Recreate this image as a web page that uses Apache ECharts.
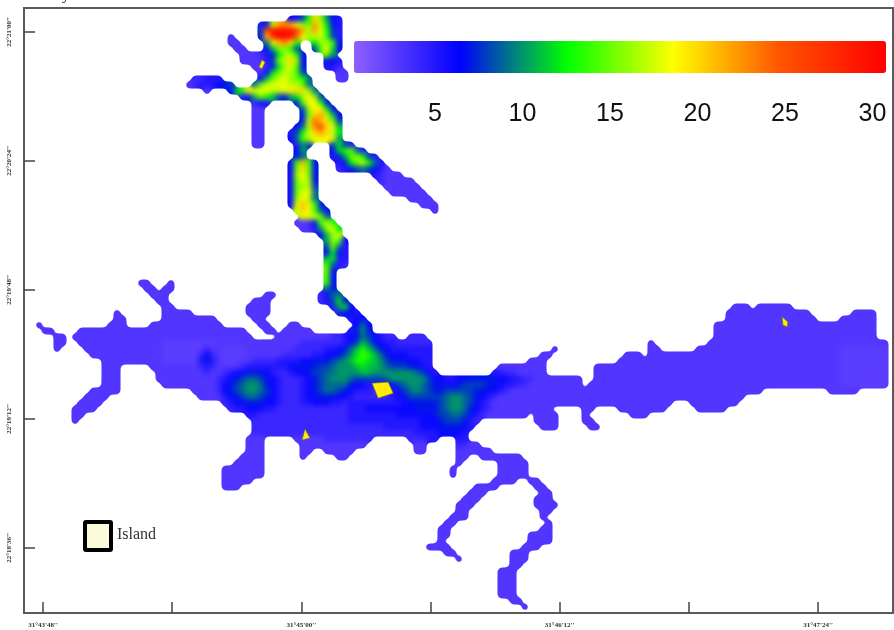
<!DOCTYPE html>
<html><head><meta charset="utf-8">
<style>html,body{margin:0;padding:0;background:#fff}
#heat,#chart{position:absolute;left:0;top:0;width:894px;height:630px}
#heat{filter:url(#soft)}
#chart{filter:blur(0.5px)}</style>
<script src="https://cdn.jsdelivr.net/npm/echarts@6/dist/echarts.min.js"></script>
</head><body>
<svg width="0" height="0" style="position:absolute"><filter id="soft" x="0" y="0" width="100%" height="100%" color-interpolation-filters="sRGB">
<feGaussianBlur stdDeviation="2.4"/><feComponentTransfer><feFuncA type="linear" slope="7" intercept="-2.7"/></feComponentTransfer></filter></svg>
<div id="heat"></div><div id="chart"></div>
<script>
// Sampled map: one string per row, "firstColumn:levels"; a level is one base-36 digit of the measured value, "a*n" repeats it.
const waterRows = [
"44:668dkga65","39:57hmnmigfmhc75","39:8puuuurmhmid85","34:3 39:7lruutoighhe85","34:33 40:9ilnkd 48:cgge7",
"35:33 40:7bfgd8 48:8ejc6","36:333457cghd6 50:fa","36:333358fhkg7 50:765","38:3346cgie7 50:554","39:36cfhhe8 52:33",
"28:44555 39:6bfhigfd9 52:33","27:34555678 38:9fhiiihhf9","30:3 34:6bejiiihhijkkg9","36:57bfdb87acgjg8","38:465 45:7ejjd7",
"38:33 46:8gjjc6","38:33 46:7fkmhb6","38:33 46:7holkf8","38:33 45:69hnqkib","38:33 44:58dhkmkhc",
"38:33 44:69ehiijia","38:33 45:5a8 51:8c85","45:6a 51:6bdf95","45:79 51:57aegd85","44:6ele7 52:57cfhd95",
"44:6fkf7 52:456898753","44:6gjf7 58:54333","44:6fig7 59:433333","44:6fgh8 60:333333","44:6fii9 61:333333",
"44:6gjh9 64:3333","44:6ilie7 66:333","45:hkje96 68:3","46:iihf9","45:3347ehd",
"46:335agic","49:6bgh","50:agf6","50:8f95","50:6c75",
"50:bc55","50:e954","50:f7","50:e6","19:33 24:3 50:e7",
"20:33 23:33 50:97","21:333 40:33 49:4699","22:33 38:333 49:458c7","23:33 37:3333 51:5ac6 118:333 122:3*6","15:3 23:3*5 37:3333 52:5765 117:3*14 138:3*4",
"15:33 23:3*9 38:33 54:566 117:3*15 136:3*6","2:3 14:333 21:3*12 39:33 44:33 55:696 115:3*27","3:33 9:3*28 40:33 43:3*5 54:57a7 115:3*27",
"5:33 8:3*30 42:3*9,44567986544 64:444 115:3*27",
"5:33 9:3*14,2*9,3*14,4*7,568b976554*6 104:3 114:3*30",
"5:3 10:3*13,2*7,433,2*4,3*8,4*5,55679bdb976555*5 88:3 104:33 112:3*24,2*8",
"11:3*12,2*6,4643,2*4,3*6,4*5,556678acedb976665*4 86:33 100:333 104:3*32,2*8",
"13:3*10,2*6,5753,2*3,3*2,4*4,5*4,6*2,77789abddcba87776655 84:333 99:3*37,2*8",
"13:333 21:3*8,454,3*4,45*7,6,7*4,889aaabcbba98887765 79:3*8 95:3*41,2*8",
"13:333 22:3*8,43*2,4566777654456678899a*4,bba*7,9865 78:55443*5 95:3*41,2*8",
"13:333 22:3*10,4567899876544456789aaa9888889a*6,8665566777776655443*8 95:3*41,2*8",
"13:333 23:3*9,46789aa9765444567899997665556789aa987766788887765544"+"3*9 94:3*42,2*8",
"11:3*5 28:3*4,46789aa98654445"+"678998765554445689a9877888887766543*42 134:3*5",
"10:3333 29:3*4,5678998765444566777665"+"4*6,5678*6,9aa9876543*41",
"9:3333 33:456677766544455666554"+"5*9,66777789aa986543*30 111:3*8",
"8:3333 34:45566655444*10,5*3,6*8,777789aa976543*10 93:33 99:3*8 112:3*5",
"8:33 37:554444*12,5*8,6*6,7889987543*7 85:3333 93:3 101:333",
"8:3 38:4*16,5*12,6667888754 85:3333 93:33",
"38:4*22,5*6,666777765 86:333 94:33",
"38:4*27,5*4,6*4,5",
"37:333 45:3*5,4*8 64:44455 72:55","37:333 46:3*11 65:33 72:4433","37:333 46:33 50:3*5 65:33 72:3*6","36:3*4 46:3 52:33 72:33 76:3*7","35:3*5 72:3 79:3*5",
"33:3*7 71:3 79:3*5","33:3*7 71:3 79:3*5","33:3*5 78:3*4 84:33","33:333 75:3*4 85:33","74:333 86:33",
"73:333 85:333","72:333 85:3*4","72:33 86:33","71:333 86:3","70:33 87:3",
"69:33 86:33","69:33 84:3*4","69:3 84:3*4","67:3*4 83:333","70:33 81:333",
"72:3 81:333","81:33","79:3*3","79:3*3","79:3*3","79:3*3","79:3*3","81:33","83:3"
];
const columnCount = 145;
const lightWater = 2.6; // level "2" in the rows: the palest water
// Islands, as [longitude, latitude] in arc-seconds.
const islandA = [[114319.7,80362.0],[114324.2,80362.3],[114325.6,80359.2],[114321.4,80357.8]];
const islandB = [[114300.2,80346.1],[114301.0,80349.2],[114302.4,80346.7]];
const islandC = [[114434.0,80380.5],[114435.6,80379.1],[114435.4,80377.7],[114434.2,80378.2]];
const islandD = [[114288.2,80450.2],[114289.0,80452.2],[114289.9,80451.6],[114289.0,80449.7]];
const islands = [islandA, islandB, islandC, islandD];
const lonTicks = [114228,114264,114300,114336,114372,114408,114444];
const lonLabels = [114228,114300,114372,114444];
const latTicks = [80460,80424,80388,80352,80316];
const colorTicks = [5,10,15,20,25,30];
const colorStops = ['#8f5fff','#0000ff','#00ff00','#ffff00','#ff5500','#ff0000'];

function dms(v){
  const d=Math.floor(v/3600), m=Math.floor((v-d*3600)/60), s=Math.round(v-d*3600-m*60);
  return d+'°'+String(m).padStart(2,'0')+"'"+String(s).padStart(2,'0')+"''";
}
const cells=[];
waterRows.forEach((row,r)=>{
  row.split(' ').forEach(seg=>{
    const i=seg.indexOf(':'), start=+seg.slice(0,i);
    const levels=seg.slice(i+1).replace(/(\w)\*(\d+)/g,(m,c,n)=>c.repeat(+n)).replace(/,/g,'');
    [...levels].forEach((ch,k)=>cells.push([start+k,r,ch==='2'?lightWater:parseInt(ch,36)]));
  });
});
const cols=Array.from({length:columnCount},(_,i)=>i);
const rows=waterRows.map((_,i)=>i);
const tickFont={fontFamily:'Liberation Serif',fontSize:7,fontWeight:'bold',color:'#333'};
const range={min:0.4,max:30.8};

echarts.init(document.getElementById('heat')).setOption({
  animation:false,
  grid:{left:24,top:16,width:870,height:594,show:false},
  xAxis:{type:'category',data:cols,show:false},
  yAxis:{type:'category',data:rows,inverse:true,show:false},
  visualMap:Object.assign({type:'continuous',show:false,seriesIndex:0,inRange:{color:colorStops}},range),
  series:[{type:'heatmap',data:cells,progressive:0,itemStyle:{borderWidth:0},emphasis:{disabled:true}}]
});

echarts.init(document.getElementById('chart')).setOption({
  animation:false,
  grid:[
    {left:24,top:8,width:869,height:605,show:true,borderColor:'#5a5a5a',borderWidth:2,backgroundColor:'transparent'},
    {left:347.5,top:72,width:538.5,height:1}
  ],
  xAxis:[
    {type:'value',gridIndex:0,min:114222.7,max:114464.9,splitLine:{show:false},axisLine:{show:false},
      axisTick:{show:true,inside:true,length:11,customValues:lonTicks,lineStyle:{color:'#444',width:1.5}},
      axisLabel:Object.assign({customValues:lonLabels,margin:9,formatter:dms},tickFont)},
    {type:'value',gridIndex:1,min:0,max:30.77,interval:5,splitLine:{show:false},axisLine:{show:false},axisTick:{show:false},
      axisLabel:{margin:29,fontFamily:'Liberation Sans',fontSize:25,color:'#111',showMinLabel:false,showMaxLabel:false,
        formatter:v=>colorTicks.includes(v)?String(v):''}}
  ],
  yAxis:[
    {type:'value',gridIndex:0,min:80297.85,max:80466.7,splitLine:{show:false},axisLine:{show:false},
      axisTick:{show:true,inside:true,length:11,customValues:latTicks,lineStyle:{color:'#444',width:1.5}},
      axisLabel:Object.assign({customValues:latTicks,margin:11,rotate:90,formatter:dms},tickFont)},
    {type:'value',gridIndex:1,show:false,min:0,max:1}
  ],
  visualMap:Object.assign({type:'continuous',seriesIndex:[],orient:'horizontal',left:354,top:41,itemWidth:32,itemHeight:532,
    padding:0,calculable:false,hoverLink:false,showLabel:false,text:null,inRange:{color:colorStops}},range),
  series:[
    {type:'custom',xAxisIndex:0,yAxisIndex:0,clip:false,silent:true,
      data:islands.map(p=>p[0]),
      renderItem:(params,api)=>({type:'polygon',
        shape:{points:islands[params.dataIndex].map(p=>api.coord(p))},
        style:{fill:'#ffec00',stroke:'#6b6b20',lineWidth:0.6}})}
  ],
  graphic:[
    {type:'rect',shape:{x:85,y:522,width:26,height:28,r:1},style:{fill:'#fbfbdc',stroke:'#000',lineWidth:4},z:10},
    {type:'text',x:117,y:527,style:{text:'Island',font:'16px "Liberation Serif"',fill:'#333'},z:10},
    {type:'text',x:62,y:-13,style:{text:'y',font:'16px "Liberation Serif"',fill:'#111'},z:10}
  ]
});
</script></body></html>
